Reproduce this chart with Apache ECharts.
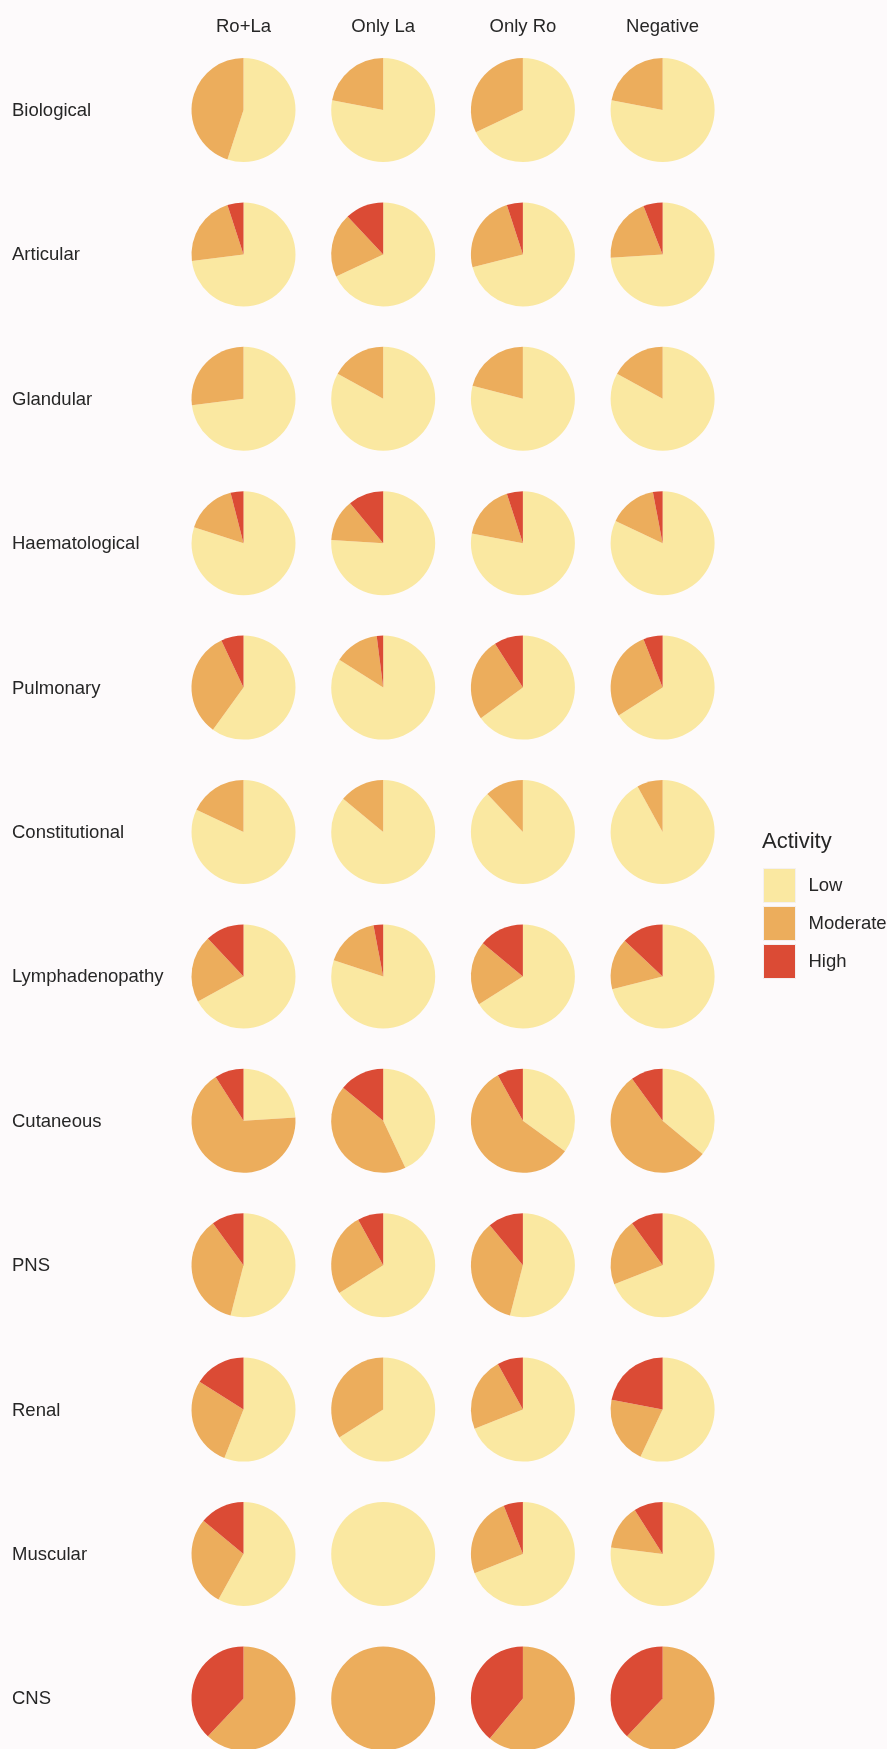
<!DOCTYPE html>
<html>
<head>
<meta charset="utf-8">
<script src="https://cdn.jsdelivr.net/npm/echarts@6/dist/echarts.min.js"></script>
<style>
  html, body { margin: 0; padding: 0; background: #fdfafb; }
  #chart { width: 887px; height: 1749px; }
</style>
</head>
<body>
<div id="chart"></div>
<script>
// columns (antibody groups) and rows (clinical domains)
const groups = ['Ro+La', 'Only La', 'Only Ro', 'Negative'];
const domains = ['Biological', 'Articular', 'Glandular', 'Haematological', 'Pulmonary', 'Constitutional',
  'Lymphadenopathy', 'Cutaneous', 'PNS', 'Renal', 'Muscular', 'CNS'];
const levels = ['Low', 'Moderate', 'High'];

// % of patients per activity level, one row per domain, columns in group order
const lowPct = [
  [55, 78, 68, 78],
  [73, 68, 71, 74],
  [73, 83, 79, 83],
  [80, 76, 78, 82],
  [60, 84, 65, 66],
  [82, 86, 88, 92],
  [67, 80, 66, 71],
  [24, 43, 35, 36],
  [54, 66, 54, 69],
  [56, 66, 69, 57],
  [58, 100, 69, 77],
  [0, 0, 0, 0]
];
const moderatePct = [
  [45, 22, 32, 22],
  [22, 20, 24, 20],
  [27, 17, 21, 17],
  [16, 13, 17, 15],
  [33, 14, 26, 28],
  [18, 14, 12, 8],
  [21, 17, 20, 16],
  [67, 43, 57, 54],
  [36, 26, 35, 21],
  [28, 34, 23, 21],
  [28, 0, 25, 14],
  [62, 100, 61, 62]
];
const highPct = [
  [0, 0, 0, 0],
  [5, 12, 5, 6],
  [0, 0, 0, 0],
  [4, 11, 5, 3],
  [7, 2, 9, 6],
  [0, 0, 0, 0],
  [12, 3, 14, 13],
  [9, 14, 8, 10],
  [10, 8, 11, 10],
  [16, 0, 8, 22],
  [14, 0, 6, 9],
  [38, 0, 39, 38]
];

const colors = { Low: '#fae8a1', Moderate: '#ecad5c', High: '#db4b35' };
const FONT = '"Liberation Sans", Arial, Helvetica, sans-serif';
const TEXT = '#262626';

// grid layout of the small multiples
const colX0 = 243.5, colStep = 139.7;
const rowY0 = 110, rowStep = 144.4;
const radius = 52;

const series = [];
const graphic = [];

groups.forEach((g, j) => {
  graphic.push({
    type: 'text',
    x: colX0 + j * colStep,
    y: 27,
    style: {
      text: g, fontSize: 18.5, fontFamily: FONT, fill: TEXT,
      textAlign: 'center', textVerticalAlign: 'middle', align: 'center', verticalAlign: 'middle'
    }
  });
});

domains.forEach((d, i) => {
  const cy = rowY0 + i * rowStep;
  graphic.push({
    type: 'text',
    x: 12,
    y: cy + 1,
    style: {
      text: d, fontSize: 18.5, fontFamily: FONT, fill: TEXT,
      textAlign: 'left', textVerticalAlign: 'middle', align: 'left', verticalAlign: 'middle'
    }
  });
  groups.forEach((g, j) => {
    const vals = [lowPct[i][j], moderatePct[i][j], highPct[i][j]];
    series.push({
      type: 'pie',
      name: d + ' / ' + g,
      center: [colX0 + j * colStep, cy],
      radius: radius,
      startAngle: 90,
      clockwise: true,
      silent: true,
      label: { show: false },
      labelLine: { show: false },
      itemStyle: { borderWidth: 0 },
      emphasis: { disabled: true },
      data: levels.map((lv, k) => ({
        name: lv,
        value: vals[k],
        itemStyle: { color: colors[lv] }
      }))
    });
  });
});

const chart = echarts.init(document.getElementById('chart'), null, { renderer: 'canvas', width: 887, height: 1749 });
chart.setOption({
  backgroundColor: '#fdfafb',
  animation: false,
  title: {
    text: 'Activity',
    left: 762,
    top: 831,
    padding: 0,
    textStyle: { fontSize: 22, fontWeight: 'normal', color: TEXT, fontFamily: FONT }
  },
  legend: {
    data: levels,
    orient: 'vertical',
    left: 763,
    top: 868,
    padding: 0,
    icon: 'rect',
    itemWidth: 32,
    itemHeight: 34,
    itemGap: 3,
    selectedMode: false,
    itemStyle: { borderColor: '#f4f0f0', borderWidth: 1 },
    textStyle: { fontSize: 18.5, color: TEXT, fontFamily: FONT, padding: [0, 0, 0, 8] }
  },
  graphic: graphic,
  series: series
});
</script>
</body>
</html>
